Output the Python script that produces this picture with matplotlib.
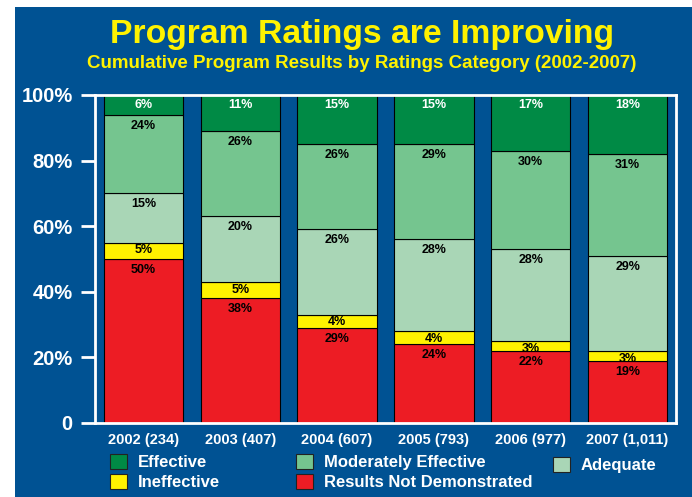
import matplotlib.pyplot as plt
from matplotlib.patches import Rectangle, Patch
import numpy as np

years = ["2002 (234)", "2003 (407)", "2004 (607)", "2005 (793)", "2006 (977)", "2007 (1,011)"]
not_demonstrated = [50, 38, 29, 24, 22, 19]
ineffective = [5, 5, 4, 4, 3, 3]
adequate = [15, 20, 26, 28, 28, 29]
mod_effective = [24, 26, 26, 29, 30, 31]
effective = [6, 11, 15, 15, 17, 18]

series = [
    ("Results Not Demonstrated", not_demonstrated, "#ED1C24", "black", -3.5),
    ("Ineffective", ineffective, "#FFF200", "black", -1.2),
    ("Adequate", adequate, "#A9D6B6", "black", -3.5),
    ("Moderately Effective", mod_effective, "#75C58F", "black", -3.5),
    ("Effective", effective, "#008A45", "white", -3.0),
]

blue = "#005293"
plt.rcParams["font.family"] = ["Liberation Sans", "DejaVu Sans"]
plt.rcParams["font.weight"] = "bold"

fig = plt.figure(figsize=(6.92, 4.97), dpi=100)
fig.patch.set_facecolor("white")
fig.patches.append(Rectangle((15 / 692, 0), 1, 1 - 7 / 497, transform=fig.transFigure,
                             facecolor=blue, edgecolor="none", zorder=-10))

ax = fig.add_axes([95 / 692, 1 - 423 / 497, 581 / 692, 328 / 497])
ax.set_facecolor(blue)

x = np.arange(len(years))
bottom = np.zeros(len(years))
handles = {}
for name, vals, color, txt, off in series:
    vals = np.array(vals)
    ax.bar(x, vals, 0.82, bottom=bottom, color=color, edgecolor="black", linewidth=0.8)
    for xi, b, v in zip(x, bottom, vals):
        ax.annotate(f"{v}%", (xi, b + v), xytext=(0, off), textcoords="offset points",
                    ha="center", va="top", fontsize=9, fontweight="bold", color=txt)
    handles[name] = Patch(facecolor=color, edgecolor="#222222", linewidth=0.8)
    bottom += vals

ax.set_xlim(-0.5, len(years) - 0.5)
ax.set_ylim(0, 100)
ax.set_yticks([0, 20, 40, 60, 80, 100])
ax.set_yticklabels(["0", "20%", "40%", "60%", "80%", "100%"])
ax.set_xticks(x)
ax.set_xticklabels(years)
ax.tick_params(axis="y", colors="white", labelsize=14.5, length=10, width=2, pad=6)
ax.tick_params(axis="x", colors="white", labelsize=10.5, length=0, pad=7)
for lbl in ax.get_yticklabels() + ax.get_xticklabels():
    lbl.set_fontweight("bold")
for s in ax.spines.values():
    s.set_color("white")
    s.set_linewidth(2)

fig.text(0.523, 0.93, "Program Ratings are Improving", ha="center", va="center",
         color="#FFF200", fontsize=24.3, fontweight="bold")
fig.text(0.523, 0.873, "Cumulative Program Results by Ratings Category (2002-2007)", ha="center",
         va="center", color="#FFF200", fontsize=13.5, fontweight="bold")

fig.legend([handles["Effective"], handles["Ineffective"], handles["Moderately Effective"],
            handles["Results Not Demonstrated"]],
           ["Effective", "Ineffective", "Moderately Effective", "Results Not Demonstrated"],
           ncol=2, loc="center left", bbox_to_anchor=(0.159, 0.05), frameon=False,
           labelcolor="white", prop={"size": 12, "weight": "bold"}, handlelength=1.0,
           handleheight=1.0, columnspacing=4.6, labelspacing=0.2, handletextpad=0.65,
           borderpad=0, borderaxespad=0)
fig.legend([handles["Adequate"]], ["Adequate"], loc="center left", bbox_to_anchor=(0.799, 0.065),
           frameon=False, labelcolor="white", prop={"size": 12, "weight": "bold"},
           handlelength=1.0, handleheight=1.0, handletextpad=0.65, borderpad=0, borderaxespad=0)

fig.savefig("out.png", dpi=100, facecolor=fig.get_facecolor())
